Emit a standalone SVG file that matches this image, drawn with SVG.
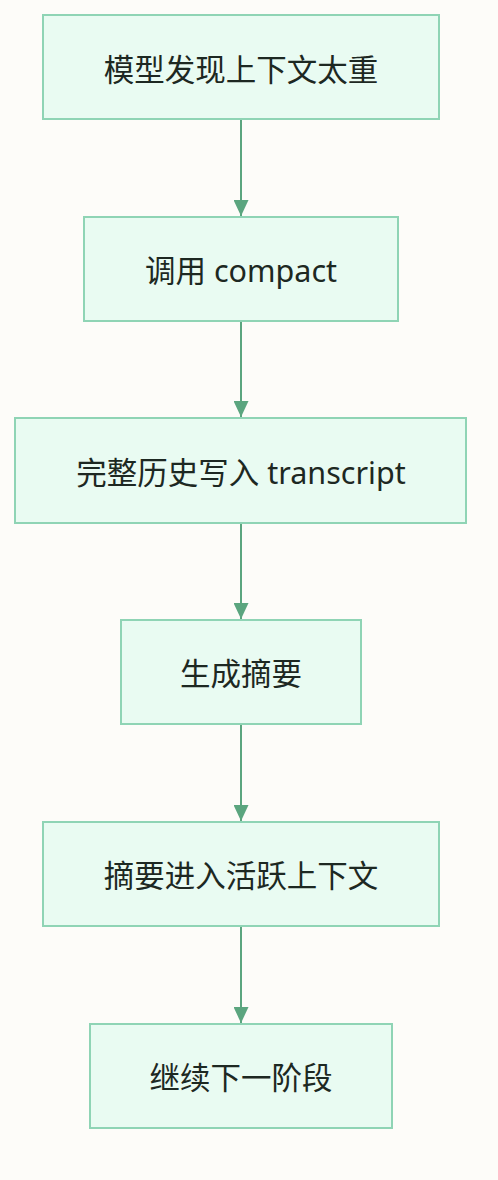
<svg xmlns="http://www.w3.org/2000/svg" width="498" height="1180" viewBox="0 0 498 1180">
<style>
.n rect{fill:#e9fbf2;stroke:#8fd4b5;stroke-width:2}
.n text{font-family:"Noto Sans","Noto Sans CJK SC",sans-serif;font-size:30.5px;fill:#1d2822;text-anchor:middle;dominant-baseline:central}
.e line{stroke:#5ba57f;stroke-width:2}
</style>
<defs>
<marker id="ah" viewBox="0 0 16 15" refX="16" refY="7.5" markerWidth="16" markerHeight="15" markerUnits="userSpaceOnUse" orient="auto">
<path d="M0,0 L16,7.5 L0,15 z" fill="#5ba57f"/>
</marker>
</defs>
<rect width="498" height="1180" fill="#fdfcf9"/>
<g class="e">
<line x1="241" y1="120" x2="241" y2="216" marker-end="url(#ah)"/>
<line x1="241" y1="322" x2="241" y2="417" marker-end="url(#ah)"/>
<line x1="241" y1="524" x2="241" y2="619" marker-end="url(#ah)"/>
<line x1="241" y1="725" x2="241" y2="821" marker-end="url(#ah)"/>
<line x1="241" y1="927" x2="241" y2="1023" marker-end="url(#ah)"/>
</g>
<g id="n1" class="n"><rect x="43" y="15" width="396" height="104"/><text x="241" y="69">模型发现上下文太重</text></g>
<g id="n2" class="n"><rect x="84" y="217" width="314" height="104"/><text x="241" y="270">调用 compact</text></g>
<g id="n3" class="n"><rect x="15" y="418" width="451" height="105"/><text x="241" y="472">完整历史写入 transcript</text></g>
<g id="n4" class="n"><rect x="121" y="620" width="240" height="104"/><text x="241" y="673">生成摘要</text></g>
<g id="n5" class="n"><rect x="43" y="822" width="396" height="104"/><text x="241" y="875">摘要进入活跃上下文</text></g>
<g id="n6" class="n"><rect x="90" y="1024" width="302" height="104"/><text x="241" y="1077">继续下一阶段</text></g>
</svg>
